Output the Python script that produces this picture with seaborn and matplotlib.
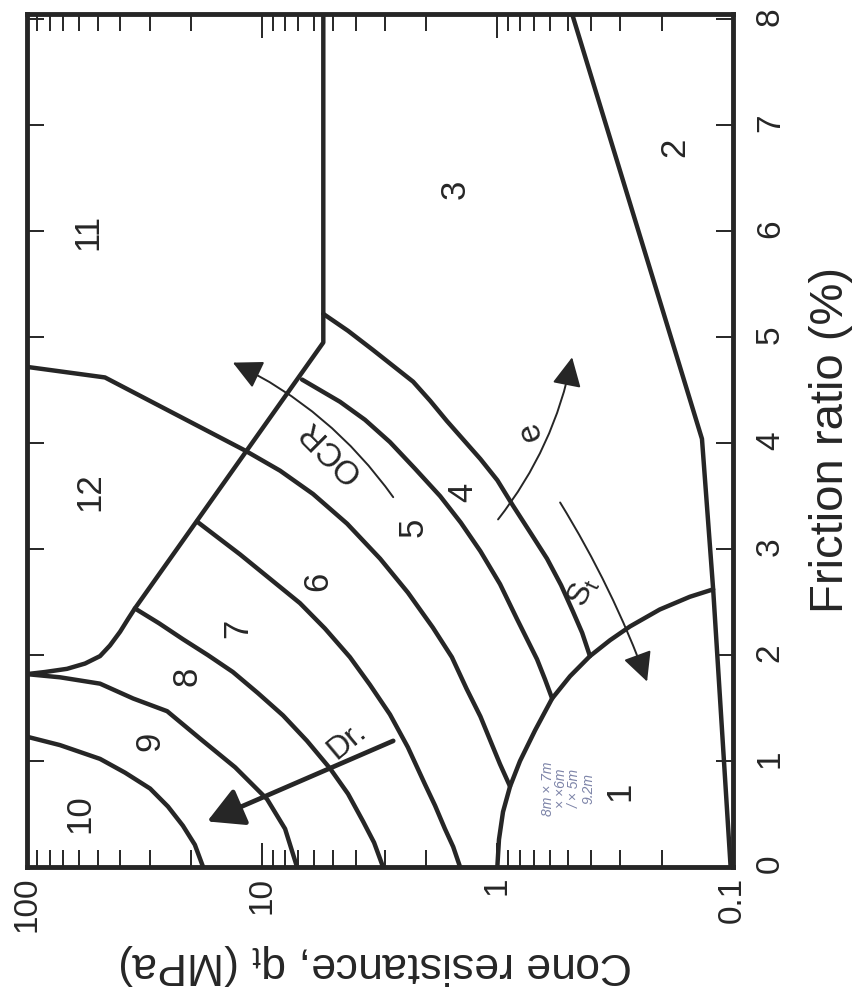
import numpy as np
import pandas as pd
import matplotlib
matplotlib.use('Agg')
import matplotlib.pyplot as plt
import matplotlib.ticker as mticker
import seaborn as sns

# Soil behaviour type chart (Robertson et al. 1986), drawn rotated 90 deg CCW:
# cone resistance qt (MPa, log) runs right-to-left, friction ratio Rf (%) runs upward.

# boundary lines  (qt in MPa, Rf in %)
organic_qt = [0.102, 0.121, 0.135, 0.481]
organic_rf = [0.0, 2.62, 4.04, 8.05]

sensitive_qt = [1.0, 0.984, 0.946, 0.883, 0.801, 0.691, 0.585, 0.491, 0.404, 0.332, 0.273, 0.204, 0.152, 0.121]
sensitive_rf = [0.0, 0.26, 0.52, 0.76, 1.00, 1.29, 1.59, 1.80, 1.99, 2.14, 2.27, 2.43, 2.55, 2.62]

arc34_qt = [5.49, 4.31, 3.38, 2.28, 1.93, 1.64, 1.18, 1.00, 0.858, 0.726, 0.615, 0.536, 0.477, 0.436, 0.404]
arc34_rf = [5.22, 5.06, 4.88, 4.58, 4.40, 4.21, 3.85, 3.65, 3.41, 3.16, 2.91, 2.66, 2.41, 2.21, 1.99]

arc45_qt = [6.76, 4.66, 3.65, 2.86, 2.24, 1.75, 1.43, 1.18, 0.974, 0.825, 0.678, 0.627, 0.585]
arc45_rf = [4.60, 4.39, 4.22, 4.01, 3.76, 3.50, 3.25, 2.98, 2.67, 2.34, 1.96, 1.77, 1.59]

arc56_qt = [100, 46.5, 11.8, 8.38, 6.07, 4.35, 3.15, 2.40, 1.88, 1.56, 1.35, 1.18, 1.07, 0.974, 0.883]
arc56_rf = [4.72, 4.62, 3.93, 3.74, 3.52, 3.24, 2.91, 2.59, 2.26, 1.98, 1.68, 1.42, 1.19, 0.97, 0.76]

arc67_qt = [18.9, 12.4, 9.25, 6.90, 5.40, 4.23, 3.48, 2.86, 2.40, 2.03, 1.84, 1.67, 1.54, 1.44]
arc67_rf = [3.26, 2.95, 2.72, 2.49, 2.25, 1.98, 1.72, 1.44, 1.13, 0.78, 0.58, 0.36, 0.19, 0.0]

arc78_qt = [34.7, 27.4, 21.7, 17.0, 13.3, 10.4, 8.14, 6.44, 5.14, 4.31, 3.72, 3.34, 3.06]
arc78_rf = [2.44, 2.30, 2.15, 2.00, 1.84, 1.64, 1.43, 1.19, 0.93, 0.69, 0.43, 0.23, 0.0]

arc89_qt = [100, 72.2, 48.8, 35.3, 25.3, 18.3, 13.0, 9.52, 7.98, 7.10]
arc89_rf = [1.82, 1.79, 1.73, 1.59, 1.47, 1.21, 0.94, 0.64, 0.36, 0.0]

arc910_qt = [100, 72.2, 48.8, 38.2, 29.9, 25.1, 21.7, 19.3, 17.8]
arc910_rf = [1.23, 1.15, 1.02, 0.89, 0.74, 0.57, 0.39, 0.21, 0.0]

stiff_qt = [5.49, 5.49, 34.7, 37.1, 40.1, 44.3, 48.8, 56.5, 67.4, 83.6, 100]
stiff_rf = [8.05, 4.95, 2.44, 2.34, 2.22, 2.09, 1.99, 1.92, 1.87, 1.84, 1.82]

zone_names = ['1', '2', '3', '4', '5', '6', '7', '8', '9', '10', '11', '12']

qt_ticks = [0.1, 1, 10, 100]
rf_ticks = [0, 1, 2, 3, 4, 5, 6, 7, 8]

INK = '#262626'

lines = {
    'organic': (organic_qt, organic_rf),
    'sensitive': (sensitive_qt, sensitive_rf),
    'arc34': (arc34_qt, arc34_rf),
    'arc45': (arc45_qt, arc45_rf),
    'arc56': (arc56_qt, arc56_rf),
    'arc67': (arc67_qt, arc67_rf),
    'arc78': (arc78_qt, arc78_rf),
    'arc89': (arc89_qt, arc89_rf),
    'arc910': (arc910_qt, arc910_rf),
    'stiff': (stiff_qt, stiff_rf),
}
df = pd.concat([pd.DataFrame({'qt': q, 'rf': r, 'line': name})
                for name, (q, r) in lines.items()], ignore_index=True)

sns.set_style('white')
plt.rcParams['font.family'] = ['Liberation Sans', 'DejaVu Sans']
plt.rcParams['mathtext.fontset'] = 'custom'
plt.rcParams['mathtext.rm'] = 'Liberation Sans'

fig = plt.figure(figsize=(8.59, 10.01), dpi=100)
ax = fig.add_axes([0.0311, 0.1339, 0.8218, 0.8521])
ax.set_xscale('log')

sns.lineplot(data=df, x='qt', y='rf', units='line', estimator=None, sort=False,
             color=INK, lw=3.2, legend=False, ax=ax)
for ln in ax.lines:
    ln.set_solid_joinstyle('round')
    ln.set_solid_capstyle('round')

ax.set_xlim(100, 0.1)
ax.set_ylim(0, 8.05)
ax.set_xlabel('')
ax.set_ylabel('')

# ticks
ax.xaxis.set_major_locator(mticker.FixedLocator(qt_ticks))
ax.xaxis.set_major_formatter(mticker.FuncFormatter(lambda v, p: f'{v:g}'))
ax.xaxis.set_minor_locator(mticker.LogLocator(base=10, subs=np.arange(2, 10)))
ax.xaxis.set_minor_formatter(mticker.NullFormatter())
ax.yaxis.set_major_locator(mticker.FixedLocator(rf_ticks))

ax.tick_params(which='both', direction='in', top=True, bottom=True, left=True, right=True,
               labelleft=False, labelright=True, labelbottom=True, labeltop=False, colors=INK)
ax.tick_params(axis='x', which='major', length=17, width=1.4, labelrotation=90, pad=7, labelsize=24)
ax.tick_params(axis='x', which='minor', length=12, width=1.4)
ax.tick_params(axis='y', which='major', length=12, width=1.4, labelrotation=90, pad=16, labelsize=24)
for s in ax.spines.values():
    s.set_linewidth(3.5)
    s.set_color(INK)

# zone numbers
zone_pos = [(0.301, 0.71), (0.176, 6.79), (1.51, 6.40), (1.40, 3.54), (2.28, 3.21),
            (5.78, 2.70), (12.65, 2.25), (20.8, 1.80), (29.9, 1.19), (59.3, 0.50),
            (54.9, 5.99), (53.8, 3.54)]
for name, (q, r) in zip(zone_names, zone_pos):
    ax.text(q, r, name, rotation=90, ha='center', va='center', fontsize=25, color=INK)

# trend arrows
thin = dict(arrowstyle='-|>,head_length=0.9,head_width=0.45', mutation_scale=20,
            color=INK, lw=1.4, shrinkA=0, shrinkB=0)
ax.annotate('', xy=(13.3, 4.76), xytext=(2.77, 3.49),
            arrowprops=dict(thin, connectionstyle='arc3,rad=0.13'))
ax.annotate('', xy=(0.481, 4.81), xytext=(0.993, 3.28),
            arrowprops=dict(thin, connectionstyle='arc3,rad=0.12'))
ax.annotate('', xy=(0.231, 1.75), xytext=(0.541, 3.44),
            arrowprops=dict(thin, connectionstyle='arc3,rad=-0.05'))
ax.annotate('', xy=(17.1, 0.43), xytext=(2.77, 1.19),
            arrowprops=dict(arrowstyle='-|>,head_length=1.1,head_width=0.6', mutation_scale=20,
                            color=INK, lw=3.4, shrinkA=0, shrinkB=0))

ax.text(5.14, 3.93, 'OCR', rotation=135, ha='center', va='center', fontsize=24, color=INK)
ax.text(4.35, 1.19, 'Dr.', rotation=40, ha='center', va='center', fontsize=23, color=INK)
ax.text(0.726, 4.11, 'e', rotation=110, ha='center', va='center', fontsize=24, color=INK)
ax.text(0.432, 2.60, r'S$_\mathregular{t}$', rotation=65, ha='center', va='center',
        fontsize=23, color=INK)

# pencil note on the scan
ax.text(0.50, 0.74, '8m × 7m\n× ×6m\n/ × 5m\n9.2m', rotation=90, ha='center', va='center',
        fontsize=10, color='#7d84a8', style='italic', linespacing=0.95)

fig.text(0.9674, 0.5604, 'Friction ratio (%)', rotation=90, ha='center', va='center',
         fontsize=34, color=INK)
fig.text(0.4377, 0.036, r'Cone resistance, q$_\mathregular{t}$ (MPa)', rotation=180,
         ha='center', va='center', fontsize=32, color=INK)

fig.savefig('out.png', dpi=100)
